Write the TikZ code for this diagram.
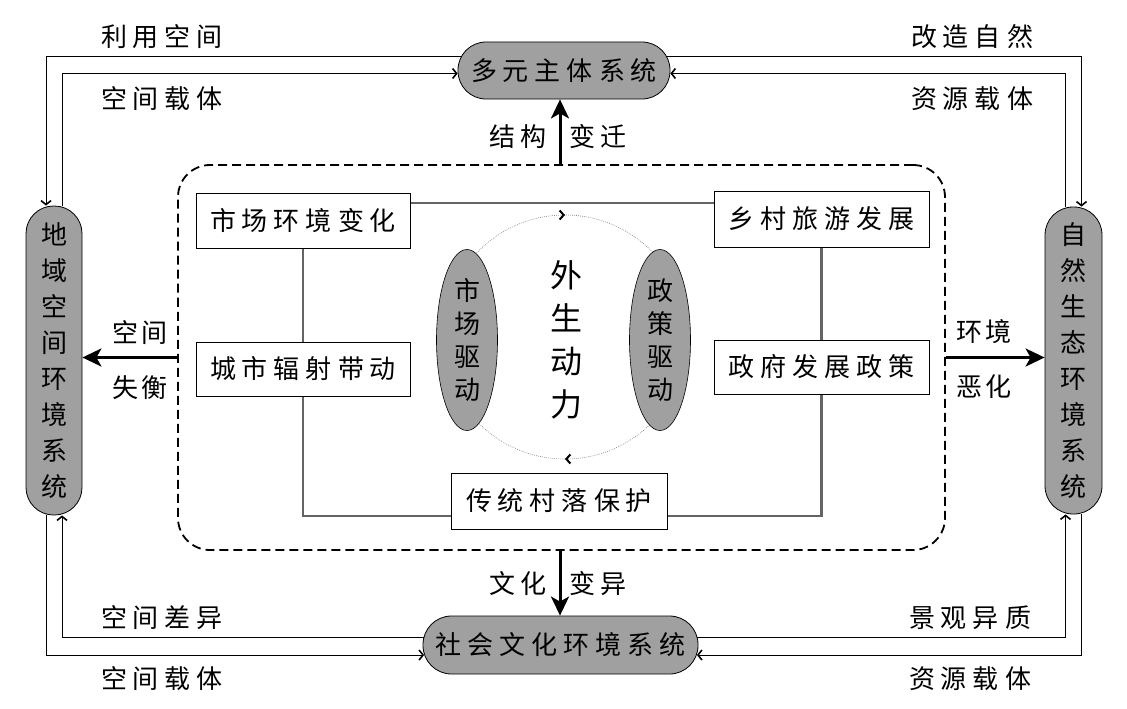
\documentclass[tikz,border=0pt]{standalone}
\usepackage{fontspec}
\setmainfont{Noto Sans CJK SC}
\usetikzlibrary{arrows.meta,calc,backgrounds,shapes.geometric,decorations.markings}
\definecolor{ngray}{RGB}{160,160,160}
\definecolor{lgray}{RGB}{100,100,100}
\newcommand\gp{\kern6pt}
\newcommand\gq{\kern3pt}
\begin{document}
\begin{tikzpicture}[x=1pt,y=-1pt,
  txt/.style={font=\fontsize{26}{36}\selectfont, inner sep=0pt},
  sysnode/.style={draw=black, line width=0.8pt, fill=ngray, inner sep=0pt, font=\fontsize{26}{36}\selectfont, align=center},
  boxnode/.style={draw=black, line width=1pt, fill=white, inner sep=0pt, font=\fontsize{26}{36}\selectfont},
  drvnode/.style={ellipse, draw=black, line width=0.6pt, fill=ngray, minimum width=61pt, minimum height=181pt, inner sep=0pt, align=center, font=\fontsize{26}{33}\selectfont},
  thinline/.style={line width=0.9pt},
  thinarrow/.style={line width=0.9pt, -{Straight Barb[length=4pt,width=10pt,line width=1.6pt]}},
  bigarrow/.style={line width=3pt, -{Stealth[length=19pt,width=18pt,inset=5pt]}},
  frameline/.style={lgray, line width=2.5pt},
  cmark/.style={decoration={markings,
      mark=at position 0.25 with {\arrow[black]{Straight Barb[length=4pt,width=9pt,line width=2pt]}},
      mark=at position 0.75 with {\arrow[black]{Straight Barb[length=4pt,width=9pt,line width=2pt]}}},
    postaction={decorate}}
]
\useasboundingbox (0,0) rectangle (1127,709);

% outer system nodes
\node[sysnode, minimum width=212pt, minimum height=57pt, rounded corners=28pt] (top) at (564,70.5) {多\gp 元\gp 主\gp 体\gp 系\gp 统};
\node[sysnode, minimum width=275pt, minimum height=58pt, rounded corners=28.5pt] (bot) at (560.5,645) {社\gp 会\gp 文\gp 化\gp 环\gp 境\gp 系\gp 统};
\node[sysnode, minimum width=56pt, minimum height=309pt, rounded corners=27.5pt] (left) at (54,360.5) {地\\域\\空\\间\\环\\境\\系\\统};
\node[sysnode, minimum width=57pt, minimum height=307pt, rounded corners=28pt] (right) at (1073.5,360.5) {自\\然\\生\\态\\环\\境\\系\\统};

% dashed frame
\node[draw, line width=1.8pt, dash pattern=on 9pt off 5pt, rounded corners=32pt, minimum width=767pt, minimum height=385pt, inner sep=0pt] (dash) at (561.5,357.5) {};

% inner boxes
\node[boxnode, minimum width=214pt, minimum height=55pt] (mkt) at (303,220.5) {市\gp 场\gp 环\gp 境\gp 变\gp 化};
\node[boxnode, minimum width=215pt, minimum height=56pt] (rural) at (821.5,219) {乡\gp 村\gp 旅\gp 游\gp 发\gp 展};
\node[boxnode, minimum width=214pt, minimum height=54pt] (city) at (303,369) {城\gp 市\gp 辐\gp 射\gp 带\gp 动};
\node[boxnode, minimum width=215pt, minimum height=54pt] (gov) at (821.5,367) {政\gp 府\gp 发\gp 展\gp 政\gp 策};
\node[boxnode, minimum width=216pt, minimum height=56pt] (trad) at (559,501) {传\gp 统\gp 村\gp 落\gp 保\gp 护};

% circle of exogenous drivers
\draw[gray, line width=0.6pt, dash pattern=on 0.8pt off 1.2pt, cmark] (565,337) circle (122);
\node[drvnode] (mdrv) at (467,340) {市\\场\\驱\\动};
\node[drvnode] (pdrv) at (660,340) {政\\策\\驱\\动};
\node[font=\fontsize{32}{43}\selectfont, align=center, inner sep=0pt] (exo) at (566,340) {外\\生\\动\\力};

\begin{scope}[on background layer]
  % grey frame connecting inner boxes
  \draw[frameline] (mkt |- 0,203) -- (rural |- 0,203);
  \draw[frameline] (mkt) -- (city) -- (city |- 0,516) -- (gov |- 0,516) -- (gov) -- (rural);
  % outer loops
  \draw[thinarrow] ($(top.center)+(0,-14.5)$) -| ($(left.north)+(-8,0)$);
  \draw[thinarrow] ($(left.north)+(8,0)$) |- ($(top.west)+(0,3)$);
  \draw[thinarrow] ($(top.center)+(0,-14.5)$) -| ($(right.north)+(8,0)$);
  \draw[thinarrow] ($(right.north)+(-8,0)$) |- ($(top.east)+(0,3)$);
  \draw[thinarrow] ($(bot.center)+(0,-8)$) -| ($(left.south)+(8,0)$);
  \draw[thinarrow] ($(left.south)+(-8,0)$) |- ($(bot.west)+(1.5,10)$);
  \draw[thinarrow] ($(bot.center)+(0,-8)$) -| ($(right.south)+(-8,0)$);
  \draw[thinarrow] ($(right.south)+(8,0)$) |- ($(bot.east)+(-1.5,10)$);
\end{scope}

% thick arrows out of the frame
\draw[bigarrow] (dash.north -| 560,0) -- (top.south -| 560,0);
\draw[bigarrow] (dash.south -| 560,0) -- (bot.north -| 560,0);
\draw[bigarrow] (dash.west) -- (dash.west -| left.east);
\draw[bigarrow] (dash.east) -- (dash.east -| right.west);

% labels
\node[txt] (l1) at (162,37) {利\gp 用\gp 空\gp 间};
\node[txt] (l2) at (162,99) {空\gp 间\gp 载\gp 体};
\node[txt] (l3) at (972,37) {改\gp 造\gp 自\gp 然};
\node[txt] (l4) at (972,99) {资\gp 源\gp 载\gp 体};
\node[txt] (l5) at (162,618) {空\gp 间\gp 差\gp 异};
\node[txt] (l6) at (162,679) {空\gp 间\gp 载\gp 体};
\node[txt] (l7) at (970,618) {景\gp 观\gp 异\gp 质};
\node[txt] (l8) at (970,679) {资\gp 源\gp 载\gp 体};
\node[txt] (l9) at (518,137) {结\gp 构};
\node[txt] (l10) at (598,137) {变\gp 迁};
\node[txt] (l11) at (518,584) {文\gp 化};
\node[txt] (l12) at (598,584) {变\gp 异};
\node[txt] (l13) at (140,333) {空\gq 间};
\node[txt] (l14) at (140,388) {失\gq 衡};
\node[txt] (l15) at (984,332) {环\gq 境};
\node[txt] (l16) at (984,387) {恶\gq 化};
\end{tikzpicture}
\end{document}
